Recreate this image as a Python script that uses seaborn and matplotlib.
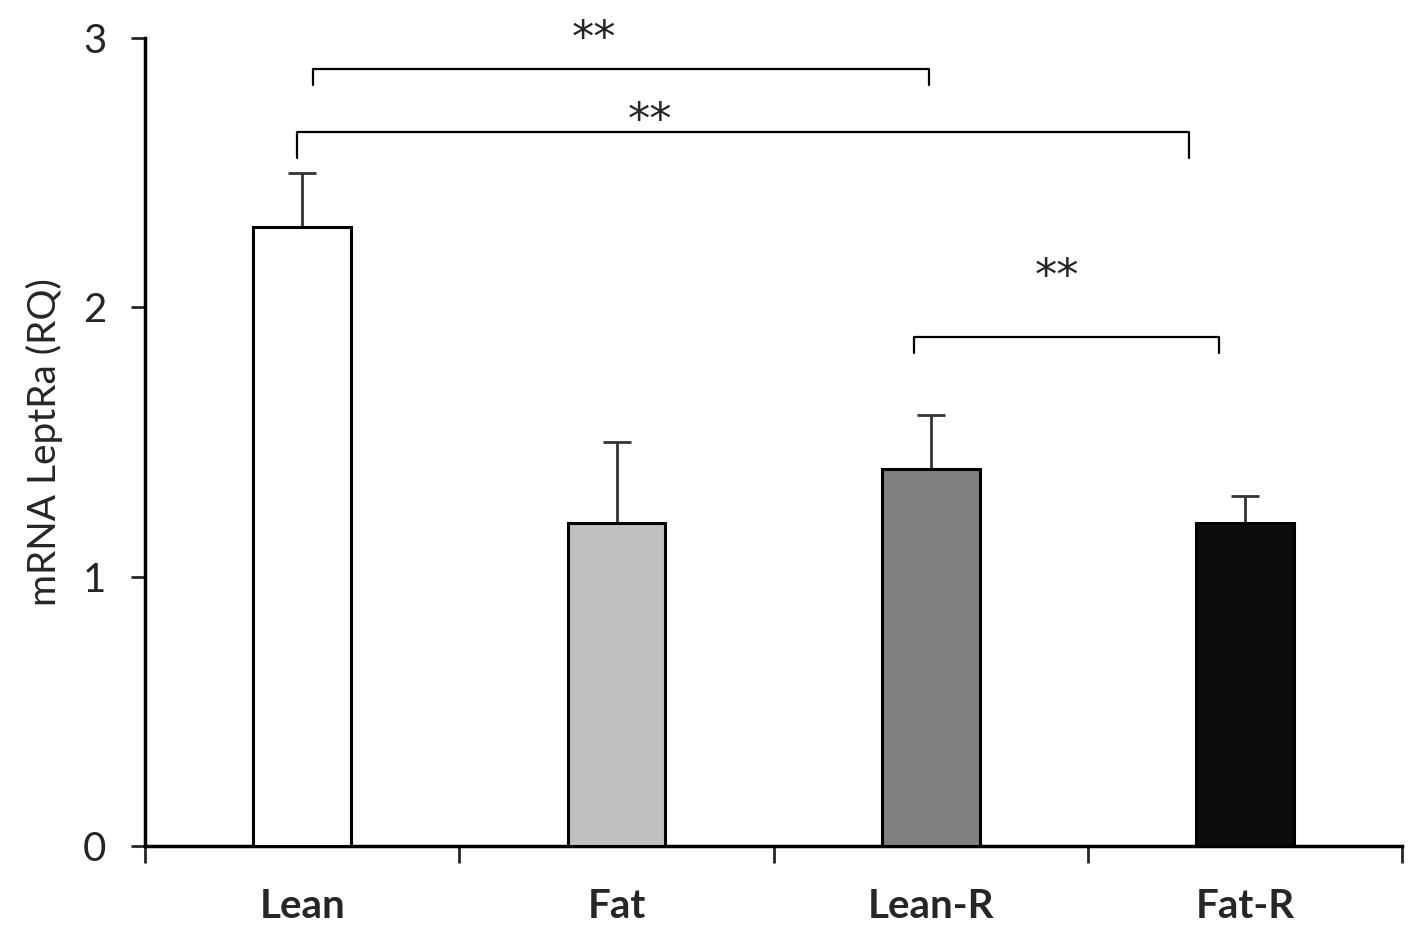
import seaborn as sns
import matplotlib.pyplot as plt
import pandas as pd

# data
groups = ['Lean', 'Fat', 'Lean-R', 'Fat-R']
means = [2.30, 1.20, 1.40, 1.20]
errs = [0.20, 0.30, 0.20, 0.10]
colors = ['#ffffff', '#c0c0c0', '#808080', '#0d0d0d']

# significance brackets: x start, x end, y level, leg drop, label x, label y
br_x0 = [0.035, -0.016, 1.946]
br_x1 = [1.994, 2.820, 2.917]
br_y = [2.885, 2.651, 1.890]
br_drop = [0.06, 0.095, 0.06]
star_x = [0.927, 1.105, 2.40]
star_y = [2.995, 2.69, 2.11]
stars = ['**', '**', '**']

df = pd.DataFrame({'group': groups, 'value': means})

sns.set_style("white")
plt.rcParams['font.family'] = ['Lato', 'DejaVu Sans']

fig = plt.figure(figsize=(14.18, 9.35), dpi=100)
ax = fig.add_axes([0.1023, 0.0952, 0.8866, 0.8642])

sns.barplot(data=df, x='group', y='value', hue='group', palette=colors,
            width=0.31, edgecolor='black', linewidth=2.2, errorbar=None,
            legend=False, ax=ax, zorder=3)

pos = list(range(len(groups)))
ax.errorbar(pos, means, yerr=[[0] * len(errs), errs], fmt='none',
            ecolor='#333333', elinewidth=2, capsize=10, capthick=2, zorder=2)

for x0, x1, y, d in zip(br_x0, br_x1, br_y, br_drop):
    ax.plot([x0, x0, x1, x1], [y - d, y, y, y - d], color='black', lw=1.6,
            solid_joinstyle='round', clip_on=False)
for x, y, s in zip(star_x, star_y, stars):
    ax.text(x, y, s, ha='center', va='center', fontsize=32,
            family=['DejaVu Sans'], clip_on=False)

ax.set_xlim(-0.5, len(groups) - 0.5)
ax.set_ylim(0, 3)
ax.set_yticks([0, 1, 2, 3])
ax.tick_params(axis='y', direction='out', length=10, width=2, labelsize=29,
               left=True, pad=18)
ax.set_xticks(pos)
ax.set_xticklabels(groups, fontsize=29, fontweight='bold')
ax.tick_params(axis='x', which='major', length=0, pad=30)
ax.set_xticks([p - 0.5 for p in pos] + [len(groups) - 0.5], minor=True)
ax.tick_params(axis='x', which='minor', direction='out', length=12, width=2,
               bottom=True)
ax.set_xlabel('')
ax.set_ylabel('mRNA LeptRa (RQ)', fontsize=28, labelpad=14)

sns.despine(ax=ax)
for side in ['left', 'bottom']:
    ax.spines[side].set_linewidth(2.5)
    ax.spines[side].set_color('black')

fig.savefig('out.png', dpi=100)
